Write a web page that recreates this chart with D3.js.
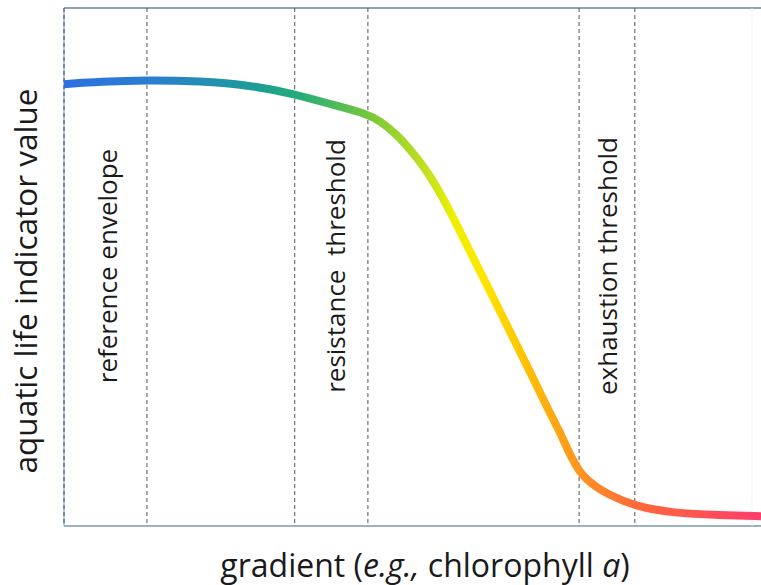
<!DOCTYPE html>
<html><head><meta charset="utf-8">
<script src="https://cdn.jsdelivr.net/npm/d3@7"></script>
<style>body{margin:0;background:#fff}svg{display:block}</style>
</head><body>
<svg id="c" width="761" height="585"></svg>
<script>
// gradient position (arbitrary units) and indicator value (arbitrary units)
const gradientX = [0, 5.2, 11.9, 19.5, 26.7, 33.1, 38.6, 43.6, 45.3, 47.5, 49.6, 51.8, 53.9, 56.1, 58.2, 61.1, 64.0, 66.9, 69.0, 71.2, 72.6, 73.9, 74.9, 76.2, 77.9, 82.1, 87.4, 94.1, 100];
const indicatorY = [85.3, 85.8, 86.1, 85.9, 85.1, 83.4, 81.3, 79.5, 78.2, 75.9, 72.8, 69.1, 64.5, 58.9, 53.1, 45.4, 37.5, 29.7, 23.7, 18.0, 13.7, 10.6, 9.1, 7.7, 6.2, 3.7, 2.5, 2.1, 1.9];
const thresholdX = [11.9, 33.1, 43.6, 73.9, 81.9];
const zoneLabels = ["reference envelope", "resistance\u00a0\u00a0threshold", "exhaustion threshold"];
const zoneLabelX = [6.3, 39.0, 78.0];
const colorStops = [
  [0, "#2d6fe2"], [0.13, "#2a7ed0"], [0.27, "#1c9c98"], [0.34, "#24ad78"],
  [0.44, "#78c83a"], [0.52, "#c6e020"], [0.56, "#eef000"], [0.60, "#ffe600"],
  [0.66, "#ffc200"], [0.72, "#ff9e1a"], [0.82, "#ff6a3a"], [1, "#ff3c6c"]
];

const FONT = "'Open Sans', 'Noto Sans', sans-serif";
const svg = d3.select("#c");
const L = 64, R = 761, T = 8, B = 526;
const x = d3.scaleLinear().domain([0, 100]).range([L, R]);
const y = d3.scaleLinear().domain([0, 100]).range([B, T]);

// frame
svg.append("line").attr("x1", L).attr("x2", R).attr("y1", T).attr("y2", T)
  .attr("stroke", "#8ea3b3").attr("stroke-width", 2);
svg.append("line").attr("x1", L).attr("x2", R).attr("y1", B).attr("y2", B)
  .attr("stroke", "#7d98ab").attr("stroke-width", 1.5);
svg.append("line").attr("x1", 752).attr("x2", 752).attr("y1", T).attr("y2", B)
  .attr("stroke", "#eef1f3").attr("stroke-width", 1);
svg.append("line").attr("x1", L).attr("x2", L).attr("y1", T).attr("y2", B)
  .attr("stroke", "#9fb6cf").attr("stroke-width", 1.5);
svg.append("line").attr("x1", L).attr("x2", L).attr("y1", T).attr("y2", B)
  .attr("stroke", "#2b4f86").attr("stroke-width", 1).attr("stroke-dasharray", "4,3");

// thresholds
svg.selectAll("line.th").data(thresholdX).join("line").attr("class", "th")
  .attr("x1", d => x(d)).attr("x2", d => x(d)).attr("y1", T).attr("y2", B)
  .attr("stroke", "#555").attr("stroke-width", 1).attr("stroke-dasharray", "4,3");

// zone labels
svg.selectAll("text.zl").data(zoneLabels).join("text").attr("class", "zl")
  .attr("transform", (d, i) => `translate(${x(zoneLabelX[i]) + 9},266) rotate(-90)`)
  .attr("text-anchor", "middle")
  .attr("font-family", FONT).attr("font-size", 26)
  .attr("fill", "#1a1a1a").text(d => d);

// gradient curve
const grad = svg.append("defs").append("linearGradient").attr("id", "g")
  .attr("gradientUnits", "userSpaceOnUse")
  .attr("x1", L).attr("x2", R).attr("y1", 0).attr("y2", 0);
grad.selectAll("stop").data(colorStops).join("stop")
  .attr("offset", d => d[0]).attr("stop-color", d => d[1]);

const pts = gradientX.map((g, i) => [g, indicatorY[i]]);
svg.append("path").datum(pts)
  .attr("d", d3.line().x(d => x(d[0])).y(d => y(d[1])).curve(d3.curveBasis))
  .attr("fill", "none").attr("stroke", "url(#g)").attr("stroke-width", 8)
  .attr("stroke-linecap", "butt");

// axis titles
svg.append("text").attr("transform", "translate(37,281) rotate(-90)")
  .attr("text-anchor", "middle").attr("font-family", FONT)
  .attr("font-size", 31.5).attr("fill", "#1a1a1a").text("aquatic life indicator value");

const xt = svg.append("text").attr("x", 425).attr("y", 577).attr("text-anchor", "middle")
  .attr("font-family", FONT).attr("font-size", 32).attr("fill", "#1a1a1a");
xt.append("tspan").text("gradient (");
xt.append("tspan").attr("font-style", "italic").text("e.g.,");
xt.append("tspan").text(" chlorophyll ");
xt.append("tspan").attr("font-style", "italic").text("a");
xt.append("tspan").text(")");
</script>
</body></html>
